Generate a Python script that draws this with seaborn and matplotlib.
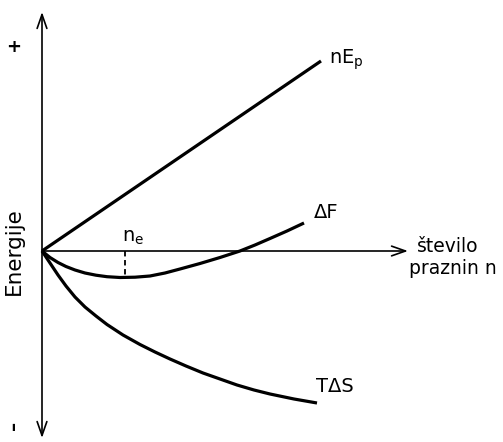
import matplotlib
matplotlib.use("Agg")
import matplotlib.pyplot as plt
import seaborn as sns
import pandas as pd

# number of vacancies (arbitrary units) and energies (arbitrary units)
n_line = [0.0, 27.9]
nEp = [0.0, 19.0]

n_tds = [0.0, 0.8, 1.6, 2.4, 3.3, 4.3, 5.4, 6.5, 8.1, 9.8, 11.3, 12.8, 14.4,
         16.1, 17.8, 19.5, 21.2, 22.8, 25.2, 27.5]
TdS = [0.0, -1.2, -2.4, -3.5, -4.6, -5.6, -6.5, -7.35, -8.4, -9.35, -10.1, -10.8,
       -11.5, -12.2, -12.8, -13.4, -13.9, -14.3, -14.8, -15.2]

n_df = [0.0, 0.8, 1.6, 2.4, 3.3, 4.3, 5.4, 6.5, 7.8, 9.3, 10.8, 12.3, 13.8,
        15.8, 17.8, 19.8, 21.3, 22.8, 24.5, 26.2]
dF = [0.0, -0.65, -1.15, -1.55, -1.9, -2.2, -2.42, -2.57, -2.65, -2.62, -2.5,
      -2.2, -1.8, -1.25, -0.65, 0.0, 0.6, 1.25, 2.0, 2.8]

n_e = 8.3
dF_e = -2.65

n_axis_end = 36.6
E_axis_top = 23.9
E_axis_bottom = -18.7

sns.set_style("white")
plt.rcParams["font.family"] = ["DejaVu Sans"]
plt.rcParams["text.color"] = "black"

fig = plt.figure(figsize=(5.03, 4.42), dpi=100)
ax = fig.add_axes([0, 0, 1, 1])
ax.set_xlim(-4.2, 46.1)
ax.set_ylim(-19.1, 25.1)
ax.axis("off")

curves = pd.concat([
    pd.DataFrame({"n": n_line, "E": nEp, "curve": "nEp"}),
    pd.DataFrame({"n": n_df, "E": dF, "curve": "dF"}),
    pd.DataFrame({"n": n_tds, "E": TdS, "curve": "TdS"}),
])
sns.lineplot(data=curves, x="n", y="E", units="curve", estimator=None,
             color="black", linewidth=2.3, sort=False, ax=ax, legend=False,
             solid_capstyle="butt", solid_joinstyle="round")

# axes with arrowheads
ax.annotate("", xy=(0, E_axis_top), xytext=(0, E_axis_bottom),
            arrowprops=dict(arrowstyle="<->,head_length=1.0,head_width=0.35",
                            color="black", lw=1.2, shrinkA=0, shrinkB=0))
ax.annotate("", xy=(n_axis_end, 0), xytext=(0, 0),
            arrowprops=dict(arrowstyle="->,head_length=1.0,head_width=0.35",
                            color="black", lw=1.2, shrinkA=0, shrinkB=0))

# equilibrium vacancy number
ax.plot([n_e, n_e], [0, dF_e], color="black", lw=1.3, ls=(0, (3, 2)))

fs = 14
ax.text(n_line[1] + 0.8, nEp[1] + 0.1, r"$\mathregular{nE_p}$", fontsize=fs, ha="left", va="center")
ax.text(n_df[-1] + 1.0, dF[-1] + 1.0, "ΔF", fontsize=fs, ha="left", va="center")
ax.text(n_tds[-1] - 0.1, TdS[-1] + 1.7, "TΔS", fontsize=fs, ha="left", va="center")
ax.text(n_e - 0.3, 0.4, r"$\mathregular{n_e}$", fontsize=fs, ha="left", va="bottom")
ax.text(n_axis_end + 0.9, 0.4, "število", fontsize=13.5, ha="left", va="center")
ax.text(n_axis_end + 0.1, -1.8, "praznin n", fontsize=13.5, ha="left", va="center")
ax.text(-2.8, 0, "Energije", fontsize=15.5, rotation=90, ha="center", va="center")
ax.text(-2.8, 20.4, "+", fontsize=13, fontweight="bold", ha="center", va="center")
ax.text(-2.8, -17.4, "–", fontsize=13, fontweight="bold", rotation=90, ha="center", va="center")

fig.savefig("out.png", dpi=100)
